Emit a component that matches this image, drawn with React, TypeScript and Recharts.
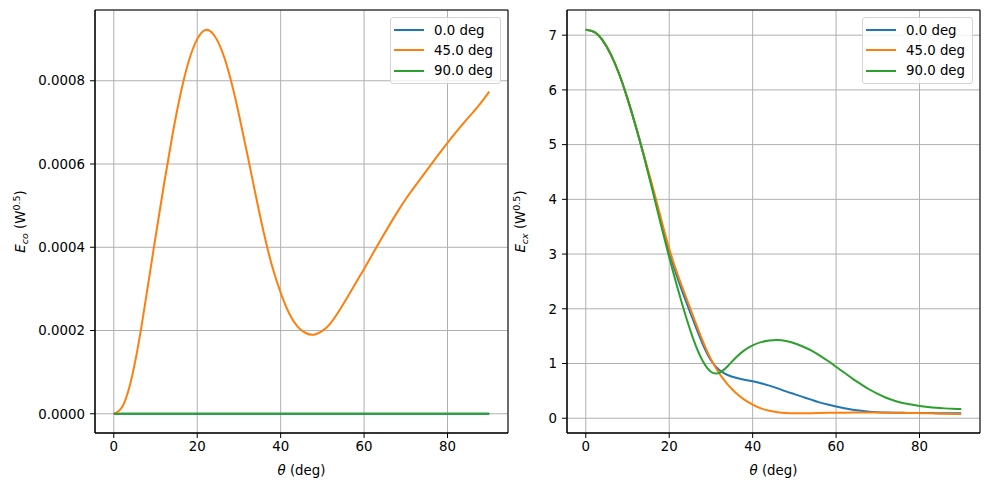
import {
  LineChart, Line, XAxis, YAxis, CartesianGrid, Legend, Label, ReferenceArea
} from 'recharts';

// theta (deg), sampled every 2 deg
const thetaDeg = [
  0, 2, 4, 6, 8, 10, 12, 14, 16, 18, 20, 22, 24, 26, 28, 30, 32, 34, 36, 38, 40, 42, 44,
  46, 48, 50, 52, 54, 56, 58, 60, 62, 64, 66, 68, 70, 72, 74, 76, 78, 80, 82, 84, 86, 88, 90,
];

// E_co (W^0.5)
const eco0 = [
  0, 0, 0, 0, 0, 0, 0, 0, 0, 0, 0, 0, 0, 0, 0, 0, 0, 0, 0, 0, 0, 0, 0,
  0, 0, 0, 0, 0, 0, 0, 0, 0, 0, 0, 0, 0, 0, 0, 0, 0, 0, 0, 0, 0, 0, 0,
];
const eco45 = [
  0, 0.000016, 0.000074, 0.000172, 0.000296, 0.000424, 0.000549, 0.000666, 0.000768, 0.000848,
  0.0009, 0.000922, 0.00091, 0.00087, 0.000804, 0.000719, 0.000624, 0.000526, 0.000433,
  0.000353, 0.000291, 0.000242, 0.00021, 0.000194, 0.00019, 0.000199, 0.000218, 0.000247,
  0.00028, 0.000314, 0.000348, 0.000383, 0.000418, 0.000452, 0.000485, 0.000516, 0.000544,
  0.000571, 0.000598, 0.000625, 0.000651, 0.000676, 0.0007, 0.000723, 0.000747, 0.000774,
];
const eco90 = [
  0, 0, 0, 0, 0, 0, 0, 0, 0, 0, 0, 0, 0, 0, 0, 0, 0, 0, 0, 0, 0, 0, 0,
  0, 0, 0, 0, 0, 0, 0, 0, 0, 0, 0, 0, 0, 0, 0, 0, 0, 0, 0, 0, 0, 0, 0,
];

// E_cx (W^0.5)
const ecx0 = [
  7.1, 7.06, 6.91, 6.65, 6.29, 5.84, 5.33, 4.78, 4.2, 3.6, 3.04, 2.56, 2.14, 1.74, 1.36,
  1.06, 0.88, 0.79, 0.74, 0.705, 0.675, 0.64, 0.595, 0.545, 0.49, 0.44, 0.39, 0.34, 0.29, 0.25,
  0.215, 0.182, 0.155, 0.135, 0.12, 0.11, 0.104, 0.1, 0.098, 0.096, 0.095, 0.094, 0.093, 0.092, 0.091, 0.09,
];
const ecx45 = [
  7.1, 7.06, 6.91, 6.65, 6.29, 5.84, 5.33, 4.79, 4.24, 3.66, 3.1, 2.63, 2.22, 1.81, 1.42,
  1.08, 0.82, 0.62, 0.46, 0.34, 0.25, 0.18, 0.135, 0.108, 0.095, 0.09, 0.09, 0.092, 0.095, 0.098,
  0.1, 0.102, 0.103, 0.104, 0.104, 0.103, 0.102, 0.1, 0.098, 0.096, 0.093, 0.09, 0.087, 0.083, 0.079, 0.075,
];
const ecx90 = [
  7.1, 7.06, 6.91, 6.65, 6.29, 5.84, 5.33, 4.77, 4.16, 3.54, 2.94, 2.38, 1.86, 1.4, 1.05,
  0.85, 0.83, 0.95, 1.11, 1.24, 1.33, 1.39, 1.42, 1.43, 1.41, 1.37, 1.31, 1.24, 1.15, 1.05,
  0.94, 0.83, 0.72, 0.62, 0.525, 0.445, 0.375, 0.32, 0.28, 0.25, 0.225, 0.205, 0.19, 0.18, 0.172, 0.167,
];

const xTicks = [0, 20, 40, 60, 80];
const ecoTicks = [0, 0.0002, 0.0004, 0.0006, 0.0008];
const ecxTicks = [0, 1, 2, 3, 4, 5, 6, 7];
const seriesNames = ['0.0 deg', '45.0 deg', '90.0 deg'];

const FONT = '"DejaVu Sans", sans-serif';
const COLORS = ['#1f77b4', '#ff7f0e', '#2ca02c'];
const X_DOMAIN = [-4.5, 94.5];

const ecoData = thetaDeg.map((t, i) => ({ theta: t, a: eco0[i], b: eco45[i], c: eco90[i] }));
const ecxData = thetaDeg.map((t, i) => ({ theta: t, a: ecx0[i], b: ecx45[i], c: ecx90[i] }));

const tickStyle = { fill: '#000', fontSize: 13.33, fontFamily: FONT };

const renderLegend = (props: any) => {
  const { payload } = props;
  return (
    <div style={{
      width: 111, height: 67, boxSizing: 'border-box', border: '1px solid #d4d4d4',
      borderRadius: 3, background: 'rgba(255,255,255,0.8)', paddingTop: 2,
      fontFamily: FONT, fontSize: 13.33, color: '#000',
    }}>
      {(payload || []).map((entry: any) => (
        <div key={entry.value} style={{ display: 'flex', alignItems: 'center', height: 20.3 }}>
          <span style={{ display: 'inline-block', width: 30, height: 2, background: entry.color, marginLeft: 3, marginRight: 10 }} />
          <span>{entry.value}</span>
        </div>
      ))}
    </div>
  );
};

const yLabel = (sub: string) => (props: any) => {
  const vb = props.viewBox || {};
  const x = vb.x + 25;
  const y = vb.y + vb.height / 2;
  return (
    <text x={x} y={y} transform={`rotate(-90 ${x} ${y})`} textAnchor="middle"
      fontFamily={FONT} fontSize={13.33} fill="#000">
      <tspan fontStyle="italic">E</tspan>
      <tspan fontStyle="italic" fontSize={9.5} dy={3}>{sub}</tspan>
      <tspan dy={-3}> (W</tspan>
      <tspan fontSize={9.5} dy={-5}>0.5</tspan>
      <tspan dy={5}>)</tspan>
    </text>
  );
};

const xLabel = (props: any) => {
  const vb = props.viewBox || {};
  return (
    <text x={vb.x + vb.width / 2} y={vb.y + 42} textAnchor="middle"
      fontFamily={FONT} fontSize={13.33} fill="#000">
      <tspan fontStyle="italic">θ</tspan>
      <tspan> (deg)</tspan>
    </text>
  );
};

function Panel({ data, yDomain, yTicks, yWidth, marginRight, sub, fmt }: any) {
  return (
    <LineChart width={yWidth + 413 + marginRight} height={490} data={data}
      margin={{ top: 10, right: marginRight, bottom: 27, left: 0 }}>
      <CartesianGrid stroke="#b0b0b0" strokeWidth={1} />
      <XAxis dataKey="theta" type="number" domain={X_DOMAIN} ticks={xTicks}
        allowDataOverflow height={30} tick={tickStyle} tickSize={5} tickMargin={4}
        stroke="#000" tickLine={{ stroke: '#000' }}>
        <Label content={xLabel} />
      </XAxis>
      <YAxis type="number" domain={yDomain} ticks={yTicks} allowDataOverflow width={yWidth}
        tick={tickStyle} tickSize={5} tickMargin={5} tickFormatter={fmt}
        stroke="#000" tickLine={{ stroke: '#000' }}>
        <Label content={yLabel(sub)} />
      </YAxis>
      {/* axes frame (top and right spines) */}
      <ReferenceArea x1={X_DOMAIN[0]} x2={X_DOMAIN[1]} y1={yDomain[0]} y2={yDomain[1]}
        fill="none" fillOpacity={0} stroke="#000" strokeWidth={1} ifOverflow="visible" />
      <Legend content={renderLegend} layout="vertical" align="center" verticalAlign="middle"
        wrapperStyle={{ top: 17, left: yWidth + 413 - 118, width: 111, height: 67 }} />
      {['a', 'b', 'c'].map((k, i) => (
        <Line key={k} dataKey={k} name={seriesNames[i]} type="natural" stroke={COLORS[i]}
          strokeWidth={2} dot={false} activeDot={false} isAnimationActive={false} />
      ))}
    </LineChart>
  );
}

export default function App() {
  return (
    <div style={{ position: 'absolute', left: 0, top: 0, width: 989, height: 490, background: '#fff' }}>
      <div style={{ position: 'absolute', left: 0, top: 0 }}>
        <Panel data={ecoData} yDomain={[-0.0000462, 0.00097]} yTicks={ecoTicks} yWidth={95}
          marginRight={3} sub="co" fmt={(v: number) => v.toFixed(4)} />
      </div>
      <div style={{ position: 'absolute', left: 500, top: 0 }}>
        <Panel data={ecxData} yDomain={[-0.27, 7.46]} yTicks={ecxTicks} yWidth={67}
          marginRight={9} sub="cx" fmt={(v: number) => String(v)} />
      </div>
    </div>
  );
}
